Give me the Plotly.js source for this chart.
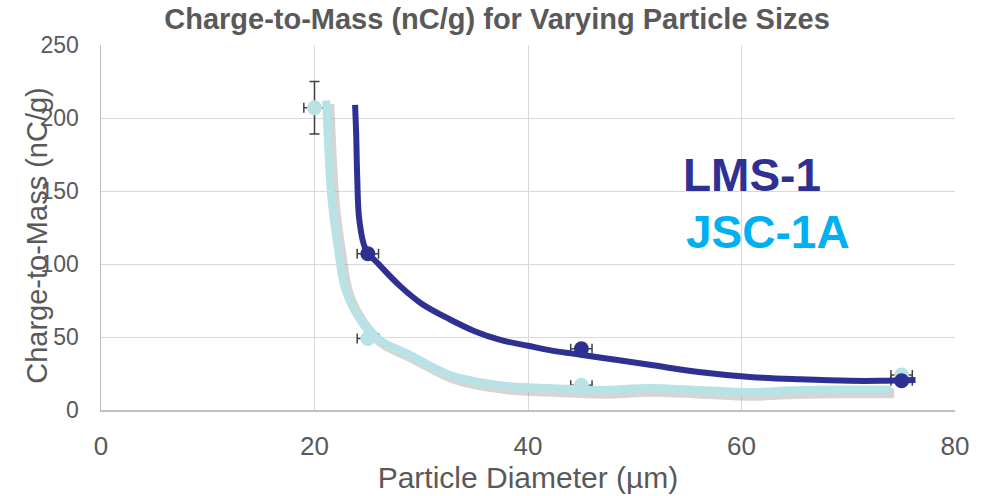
<!DOCTYPE html>
<html><head><meta charset="utf-8">
<script src="https://cdn.plot.ly/plotly-3.0.1.min.js"></script>
<style>body{margin:0;background:#fff}#c{width:994px;height:496px}</style>
</head><body><div id="c"></div>
<script>
// Measured points
const lmsX = [25, 45, 75];
const lmsY = [107, 42, 20];
const lmsXErr = [1, 1, 1];
const jscX = [20, 25, 45, 75];
const jscY = [207, 49, 17, 24];
const jscYErr = [18, 0, 0, 0];
const jscXErr = [1, 1, 1, 1];
// Hand-drawn trend curves
const lmsCurveX = [23.8, 23.9, 24.0, 24.2, 24.8, 26, 28, 30, 32.7, 35, 37.4, 40, 42, 46.7, 51.4, 56, 60.8, 65.5, 70.2, 73, 76.3];
const lmsCurveY = [209, 190, 160, 130, 110, 100, 85, 73, 62, 54, 48, 44, 41, 36, 31, 26, 22.6, 21, 20, 20, 20.5];
const jscCurveX = [21.1, 21.3, 21.6, 22.2, 22.9, 24.3, 26.1, 28.9, 32.7, 37.4, 42, 46.7, 51.4, 56, 60.8, 65.5, 70, 74];
const jscCurveY = [212, 178, 144, 110, 82, 62, 48, 38, 24, 17, 15, 13.7, 15, 13.7, 12.3, 13.7, 14, 14];
const shadowDX = 0.3, shadowDY = -2.5;

const grey = '#595959';
const font = 'Liberation Sans, Arial, sans-serif';
const traces = [
  {x: jscCurveX.map(v => v + shadowDX), y: jscCurveY.map(v => v + shadowDY), mode: 'lines',
   line: {color: 'rgba(150,150,150,0.4)', width: 10, shape: 'spline'}, hoverinfo: 'skip'},
  {x: jscX, y: jscY, mode: 'markers', marker: {color: '#B8E2E5', size: 15},
   error_y: {type: 'data', array: jscYErr, color: '#404040', thickness: 1.5, width: 5, visible: true},
   error_x: {type: 'data', array: jscXErr, color: '#404040', thickness: 1.5, width: 5, visible: true}},
  {x: lmsX, y: lmsY, mode: 'markers', marker: {color: '#2E3192', size: 15},
   error_x: {type: 'data', array: lmsXErr, color: '#404040', thickness: 1.5, width: 5, visible: true}},
  {x: jscCurveX, y: jscCurveY, mode: 'lines', line: {color: '#B8E2E5', width: 8, shape: 'spline'}},
  {x: lmsCurveX, y: lmsCurveY, mode: 'lines', line: {color: '#2E3192', width: 6, shape: 'spline'}}
];
const layout = {
  width: 994, height: 496, showlegend: false,
  paper_bgcolor: '#fff', plot_bgcolor: '#fff',
  margin: {l: 101, r: 39, t: 45, b: 86},
  title: {text: '<b>Charge-to-Mass (nC/g) for Varying Particle Sizes</b>', x: 0.5, xanchor: 'center', y: 0.962, yanchor: 'middle',
          font: {family: font, size: 29, color: grey}},
  xaxis: {range: [0, 80], dtick: 20, tick0: 0, showgrid: true, gridcolor: '#d9d9d9', gridwidth: 1,
          showline: true, linecolor: '#bfbfbf', linewidth: 1.5, zeroline: false, ticks: '', ticklabelstandoff: 12,
          tickfont: {family: font, size: 26, color: grey},
          title: {text: 'Particle Diameter (µm)', standoff: 2, font: {family: font, size: 30, color: grey}}},
  yaxis: {range: [0, 250], dtick: 50, tick0: 0, showgrid: true, gridcolor: '#d9d9d9', gridwidth: 1,
          showline: true, linecolor: '#bfbfbf', linewidth: 1.5, zeroline: false, ticks: '', ticklabelstandoff: 16,
          tickfont: {family: font, size: 23, color: grey}},
  annotations: [
    {xref: 'paper', yref: 'paper', x: -0.075, y: 0.48, xanchor: 'center', yanchor: 'middle', text: 'Charge-to-Mass (nC/g)', textangle: -90, showarrow: false,
     font: {family: font, size: 29, color: grey}},
    {x: 61, y: 161, text: '<b>LMS-1</b>', showarrow: false, font: {family: font, size: 46, color: '#2E3192'}},
    {x: 62.5, y: 122, text: '<b>JSC-1A</b>', showarrow: false, font: {family: font, size: 46, color: '#00B0F0'}}
  ]
};
Plotly.newPlot('c', traces, layout, {displayModeBar: false, staticPlot: true});
</script></body></html>
